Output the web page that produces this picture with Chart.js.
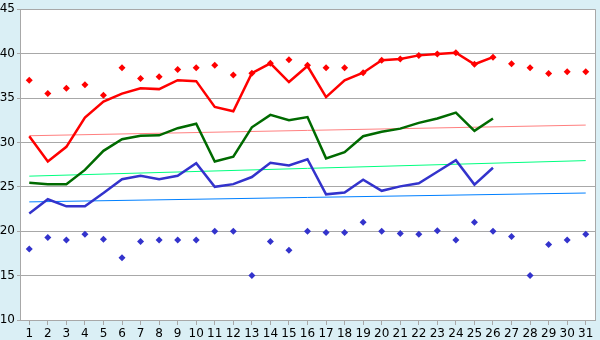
<!DOCTYPE html>
<html>
<head>
<meta charset="utf-8">
<script src="https://cdn.jsdelivr.net/npm/chart.js@4"></script>
<style>
  body { margin: 0; background: #daeff5; }
  canvas { display: block; }
</style>
</head>
<body>
<canvas id="grafico" width="600" height="340"></canvas>
<script>
var days = ['1', '2', '3', '4', '5', '6', '7', '8', '9', '10', '11', '12', '13', '14', '15', '16',
    '17', '18', '19', '20', '21', '22', '23', '24', '25', '26', '27', '28', '29', '30', '31'];

// lines (only first 26 days)
var redLine = [30.7, 27.85, 29.5, 32.8, 34.6, 35.5, 36.1, 36.0, 37.0, 36.9, 34.0, 33.5, 37.8, 38.9,
    36.8, 38.6, 35.1, 37.0, 37.85, 39.25, 39.4, 39.8, 39.95, 40.1, 38.8, 39.6];
var greenLine = [25.45, 25.3, 25.3, 26.9, 29.05, 30.35, 30.75, 30.8, 31.6, 32.1, 27.85, 28.4, 31.7, 33.1,
    32.5, 32.85, 28.2, 28.9, 30.7, 31.2, 31.55, 32.2, 32.7, 33.35, 31.3, 32.7];
var blueLine = [22.0, 23.6, 22.8, 22.8, 24.3, 25.85, 26.25, 25.85, 26.25, 27.65, 25.0, 25.3, 26.1, 27.7,
    27.4, 28.1, 24.15, 24.35, 25.8, 24.55, 25.05, 25.4, 26.7, 28.0, 25.25, 27.15];

// diamonds
var redPoints = [37.0, 35.5, 36.1, 36.5, 35.3, 38.4, 37.2, 37.4, 38.2, 38.4, 38.7, 37.6, 37.8, 38.9, 39.3,
    38.7, 38.4, 38.4, 37.85, 39.25, 39.4, 39.8, 39.95, 40.1, 38.8, 39.6, 38.85, 38.4, 37.75, 37.95, 37.95];
var bluePoints = [18.0, 19.3, 19.0, 19.65, 19.1, 17.0, 18.85, 19.0, 19.0, 19.0, 20.0, 20.0, 15.0, 18.85, 17.85,
    20.0, 19.85, 19.85, 21.0, 20.0, 19.75, 19.65, 20.05, 19.0, 21.0, 20.0, 19.4, 15.0, 18.5, 19.0, 19.65];

// trend lines: value at day 1 and day 31
var redTrend = [30.75, 31.95];
var greenTrend = [26.2, 27.95];
var blueTrend = [23.3, 24.3];

var yTicks = [10, 15, 20, 25, 30, 35, 40, 45];

function ends(v) {
    return [{ x: days[0], y: v[0] }, { x: days[days.length - 1], y: v[1] }];
}

function lineSet(values, color, width, order) {
    return {
        data: values,
        borderColor: color,
        backgroundColor: color,
        borderWidth: width,
        pointRadius: 0,
        tension: 0,
        fill: false,
        order: order
    };
}

function pointSet(values, color) {
    return {
        data: values,
        showLine: false,
        pointStyle: 'rectRot',
        pointRadius: 3.5,
        borderWidth: 0,
        backgroundColor: color,
        borderColor: color,
        order: 0
    };
}

var plotBox = {
    id: 'plotBox',
    beforeDraw: function (chart) {
        var a = chart.chartArea, c = chart.ctx;
        c.save();
        c.fillStyle = '#ffffff';
        c.fillRect(a.left, a.top, a.right - a.left, a.bottom - a.top);
        c.restore();
    },
    afterDraw: function (chart) {
        var a = chart.chartArea, c = chart.ctx;
        c.save();
        c.strokeStyle = '#a8a8a8';
        c.lineWidth = 1;
        c.beginPath();
        c.moveTo(Math.round(a.right) + 0.5, a.top);
        c.lineTo(Math.round(a.right) + 0.5, a.bottom);
        c.stroke();
        c.restore();
    }
};

var ctx = document.querySelector('#grafico').getContext('2d');
var chart = new Chart(ctx, {
    type: 'line',
    data: {
        labels: days,
        datasets: [
            lineSet(redLine, '#ff0000', 2.5, 1),
            lineSet(greenLine, '#006a00', 2.5, 1),
            lineSet(blueLine, '#3333cc', 2.5, 1),
            pointSet(redPoints, '#ff0000'),
            pointSet(bluePoints, '#3333cc'),
            lineSet(ends(redTrend), '#ff8080', 1, 3),
            lineSet(ends(greenTrend), '#00ff80', 1, 3),
            lineSet(ends(blueTrend), '#0080ff', 1, 3)
        ]
    },
    options: {
        responsive: false,
        devicePixelRatio: 1,
        animation: false,
        spanGaps: true,
        layout: { padding: { top: 5, right: 5, left: 0, bottom: 0 } },
        plugins: { legend: { display: false }, tooltip: { enabled: false } },
        scales: {
            x: {
                offset: true,
                grid: { offset: false, drawOnChartArea: false, drawTicks: true, tickLength: 5, color: '#a8a8a8' },
                border: { color: '#a8a8a8' },
                ticks: { autoSkip: false, maxRotation: 0, padding: 2, color: '#000', font: { family: 'DejaVu Sans', size: 12 } },
                afterFit: function (s) { s.height = 20; }
            },
            y: {
                min: 10,
                max: 45,
                afterBuildTicks: function (s) { s.ticks = yTicks.map(function (v) { return { value: v }; }); },
                grid: { color: '#a8a8a8', tickLength: 3 },
                border: { color: '#a8a8a8' },
                ticks: { padding: 2, color: '#000', font: { family: 'DejaVu Sans', size: 12 } },
                afterFit: function (s) { s.width = 20; }
            }
        }
    },
    plugins: [plotBox]
});
</script>
</body>
</html>
